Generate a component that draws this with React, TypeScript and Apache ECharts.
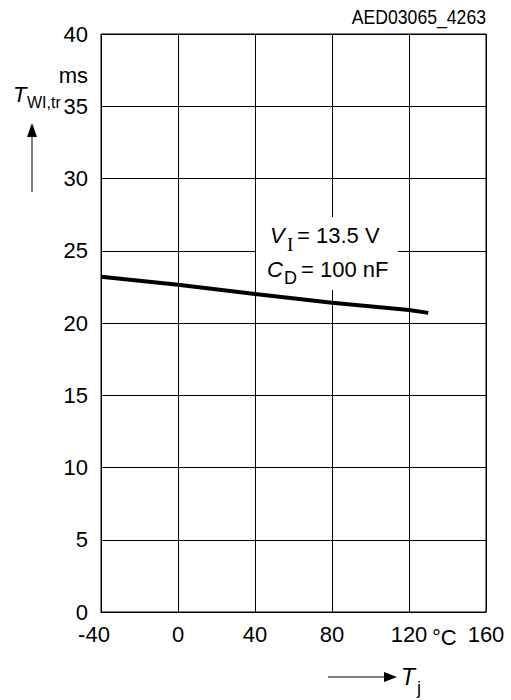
import React, { useEffect, useRef } from "react";
import * as echarts from "echarts";

const xTicks = [-40, 0, 40, 80, 120, 160];
const yTicks = [0, 5, 10, 15, 20, 25, 30, 35, 40];
const tempC = [-40, 0, 40, 80, 120, 130];
const tWiTr = [23.2, 22.65, 22.0, 21.4, 20.9, 20.7];

const FONT = "'Liberation Sans', Arial, sans-serif";
const SERIF = "'Liberation Serif', 'DejaVu Serif', serif";

export default function App() {
  const ref = useRef<HTMLDivElement>(null);
  useEffect(() => {
    if (!ref.current) return;
    const chart = echarts.init(ref.current, null, { renderer: "svg" });
    const txt = (text: string, x: number, y: number, o: any = {}, e: any = {}) => ({
      type: "text",
      x,
      y,
      z: 101,
      ...e,
      style: {
        text,
        fontFamily: FONT,
        fontSize: 22,
        fill: "#000",
        align: "left",
        verticalAlign: "middle",
        ...o,
      },
    });
    chart.setOption({
      animation: false,
      grid: {
        left: 101,
        right: 25,
        top: 34,
        bottom: 88,
        show: true,
        borderColor: "#000",
        borderWidth: 1,
        backgroundColor: "transparent",
      },
      xAxis: {
        type: "value",
        min: xTicks[0],
        max: xTicks[xTicks.length - 1],
        interval: 40,
        axisLine: { show: true, lineStyle: { color: "#000", width: 1 } },
        axisTick: { show: false },
        splitLine: { show: true, lineStyle: { color: "#000", width: 1 } },
        axisLabel: {
          color: "#000",
          fontFamily: FONT,
          fontSize: 22,
          margin: 11,
          showMinLabel: true,
          showMaxLabel: true,
          formatter: (v: number) => (v === -40 ? "{n|-40}" : String(v)),
          rich: {
            n: { fontFamily: FONT, fontSize: 22, color: "#000", padding: [0, 14, 0, 0] },
          },
        },
      },
      yAxis: {
        type: "value",
        min: yTicks[0],
        max: yTicks[yTicks.length - 1],
        interval: 5,
        axisLine: { show: true, lineStyle: { color: "#000", width: 1 } },
        axisTick: { show: false },
        splitLine: { show: true, lineStyle: { color: "#000", width: 1 } },
        axisLabel: {
          color: "#000",
          fontFamily: FONT,
          fontSize: 22,
          margin: 13,
          showMinLabel: true,
          showMaxLabel: true,
        },
      },
      series: [
        {
          type: "line",
          data: tempC.map((t, i) => [t, tWiTr[i]]),
          showSymbol: false,
          symbol: "none",
          lineStyle: { color: "#000", width: 4 },
          z: 5,
        },
      ],
      graphic: [
        // title
        txt("AED03065_4263", 486, 16, { align: "right", fontSize: 21 }, { scaleX: 0.84 }),
        // y unit
        txt("ms", 88, 75, { align: "right" }),
        // y name
        txt("T", 13, 94, { fontStyle: "italic" }),
        txt("WI,tr", 27, 102, { fontSize: 16 }),
        {
          type: "line",
          z: 101,
          shape: { x1: 32, y1: 135, x2: 32, y2: 192 },
          style: { stroke: "#000", lineWidth: 1 },
        },
        {
          type: "polygon",
          z: 101,
          shape: { points: [[27, 137], [37, 137], [32, 123]] },
          style: { fill: "#000" },
        },
        // °C
        txt("°C", 432, 637),
        // x name
        {
          type: "line",
          z: 101,
          shape: { x1: 328, y1: 677, x2: 386, y2: 677 },
          style: { stroke: "#000", lineWidth: 1 },
        },
        {
          type: "polygon",
          z: 101,
          shape: { points: [[384, 672], [384, 682], [397, 677]] },
          style: { fill: "#000" },
        },
        txt("T", 401, 677, { fontStyle: "italic", fontSize: 23 }),
        txt("j", 417, 688, { fontSize: 18 }),
        // annotation box
        {
          type: "rect",
          z: 100,
          shape: { x: 256, y: 217, width: 142, height: 73 },
          style: { fill: "#fff" },
        },
        txt("V", 270, 235, { fontStyle: "italic" }),
        txt("I", 287, 244, { fontFamily: SERIF, fontSize: 19 }),
        txt("= 13.5 V", 297, 235),
        txt("C", 267, 269, { fontStyle: "italic" }),
        txt("D", 284, 278, { fontSize: 18 }),
        txt("= 100 nF", 301, 269),
      ],
    });
    return () => chart.dispose();
  }, []);
  return (
    <div
      ref={ref}
      style={{ position: "fixed", left: 0, top: 0, width: 511, height: 700, background: "#fff" }}
    />
  );
}
